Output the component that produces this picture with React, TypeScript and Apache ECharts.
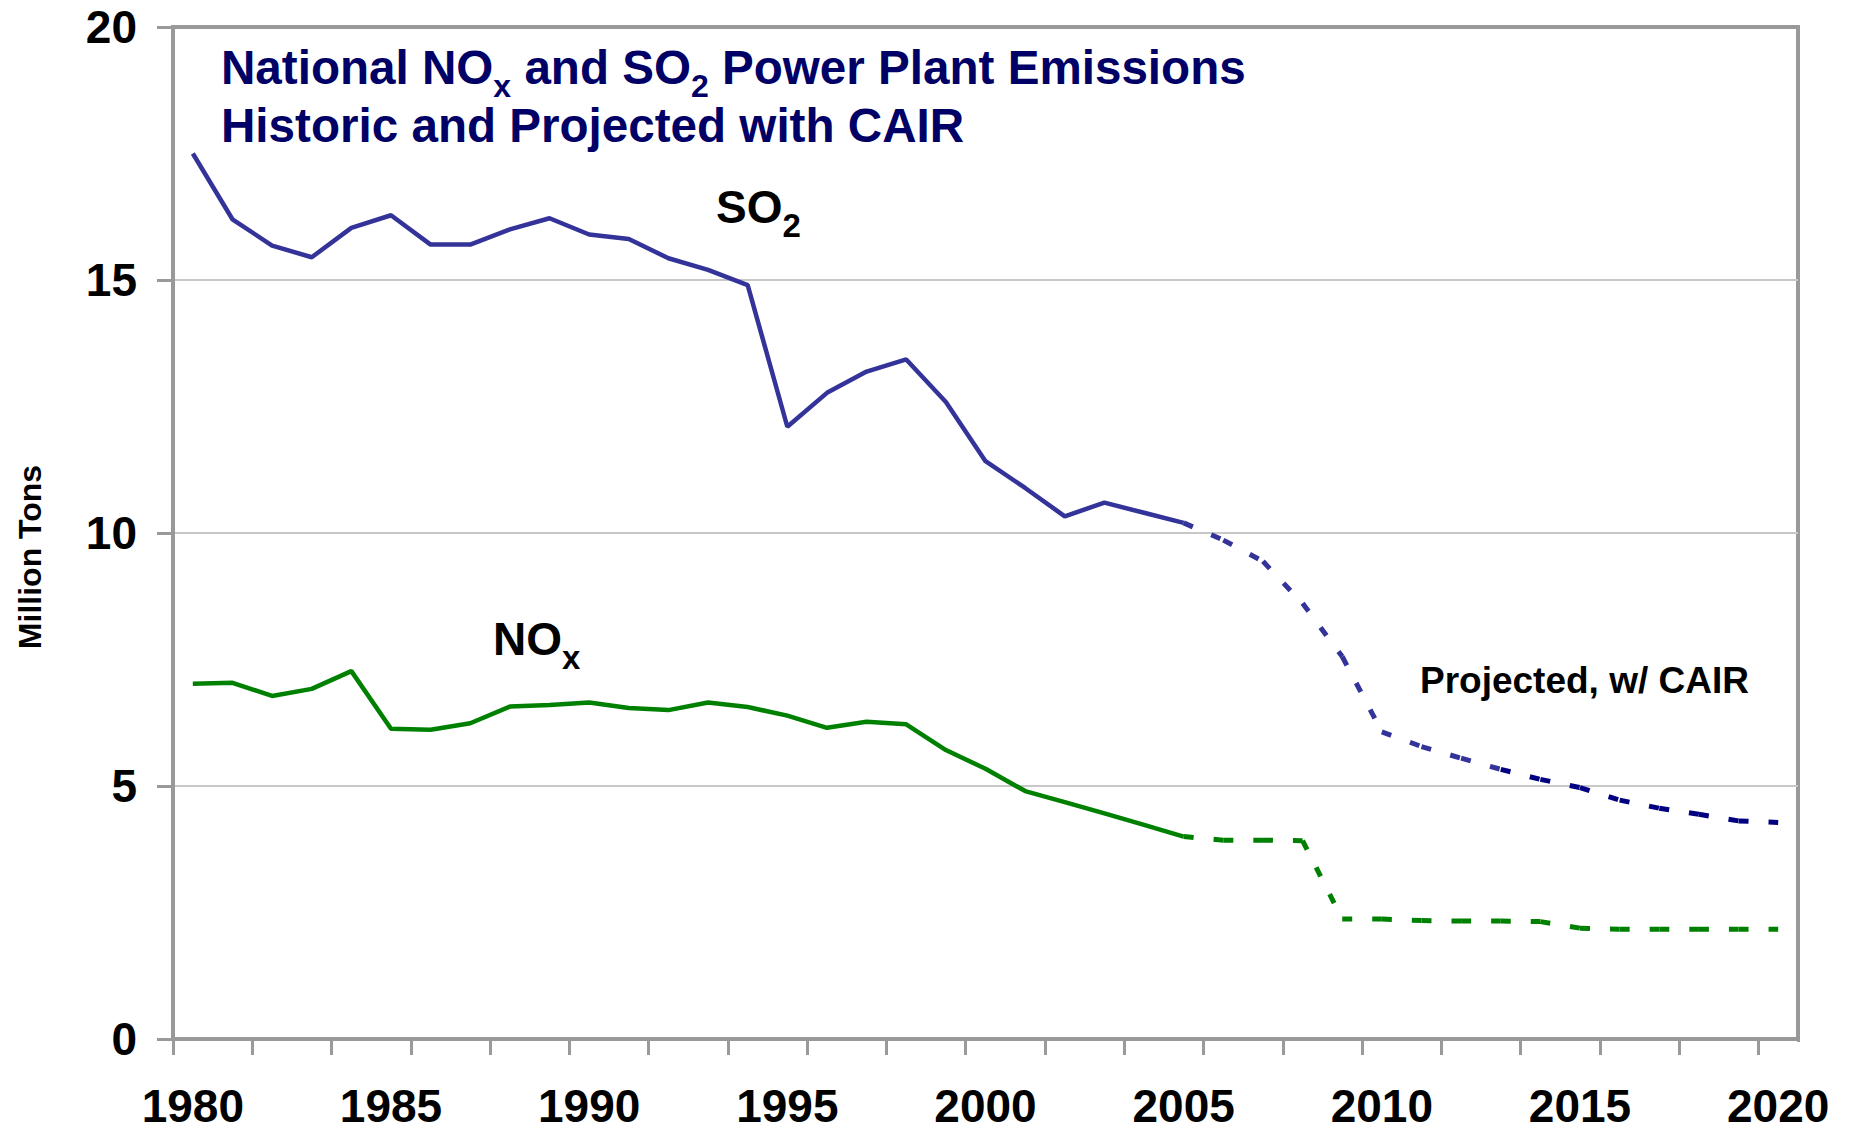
import React, { useEffect, useRef } from 'react';
import * as echarts from 'echarts';

// ---- data ----
const years = [
  '1980', '1981', '1982', '1983', '1984', '1985', '1986', '1987', '1988', '1989',
  '1990', '1991', '1992', '1993', '1994', '1995', '1996', '1997', '1998', '1999',
  '2000', '2001', '2002', '2003', '2004', '2005', '2006', '2007', '2008', '2009',
  '2010', '2011', '2012', '2013', '2014', '2015', '2016', '2017', '2018', '2019', '2020',
];

// historic 1980-2005
const so2Historic = [
  17.5, 16.2, 15.68, 15.45, 16.03, 16.28, 15.7, 15.7, 16.0, 16.22,
  15.9, 15.81, 15.43, 15.2, 14.9, 12.1, 12.77, 13.19, 13.43, 12.59,
  11.42, 10.89, 10.33, 10.6, 10.4, 10.2,
];
const noxHistoric = [
  7.02, 7.04, 6.78, 6.92, 7.27, 6.13, 6.11, 6.24, 6.57, 6.6,
  6.65, 6.54, 6.5, 6.65, 6.56, 6.39, 6.15, 6.27, 6.22, 5.71,
  5.34, 4.9, 4.68, 4.46, 4.23, 4.0,
];

// projected with CAIR, 2005-2020
const projectionStartYear = '2005';
const so2Projected = [
  10.2, 9.86, 9.44, 8.61, 7.56, 6.07, 5.78, 5.55, 5.33, 5.13,
  4.97, 4.72, 4.56, 4.44, 4.31, 4.28,
];
const noxProjected = [
  4.0, 3.93, 3.93, 3.92, 2.37, 2.37, 2.34, 2.33, 2.33, 2.32,
  2.19, 2.17, 2.17, 2.17, 2.17, 2.17,
];
const so2DarkFromYear = '2013';

const yTickValues = [0, 5, 10, 15, 20];

// ---- styling ----
const FONT = '"Liberation Sans", Arial, Helvetica, sans-serif';
const AXIS_GRAY = '#999999';
const GRID_GRAY = '#c8c8c8';
const SO2_COLOR = '#333399';
const SO2_DARK = '#000080';
const NOX_COLOR = '#008000';
const TITLE_COLOR = '#000066';

function measure(text: string, size: number): number {
  const ctx = document.createElement('canvas').getContext('2d');
  if (!ctx) return text.length * size * 0.55;
  ctx.font = `bold ${size}px ${FONT}`;
  return ctx.measureText(text).width;
}

// pieces: [text, isSubscript]
function subText(
  pieces: [string, boolean][],
  x0: number,
  baseline: number,
  size: number,
  subSize: number,
  subDrop: number,
  color: string,
) {
  const els: any[] = [];
  let x = x0;
  for (const [t, sub] of pieces) {
    const fs = sub ? subSize : size;
    const trimmed = t.trim();
    const lead = t.length - t.replace(/^\s+/, '').length;
    const trail = t.length - t.replace(/\s+$/, '').length;
    x += measure(' '.repeat(lead), fs);
    const bl = sub ? baseline + subDrop : baseline;
    els.push({
      type: 'text',
      z: 100,
      silent: true,
      style: {
        text: trimmed,
        x,
        y: bl - 0.3465 * fs,
        fill: color,
        font: `bold ${fs}px ${FONT}`,
        textAlign: 'left',
        textVerticalAlign: 'middle',
        align: 'left',
        verticalAlign: 'middle',
      },
    });
    x += measure(trimmed, fs) + measure(' '.repeat(trail), fs);
  }
  return els;
}

function segments(values: number[], startIdx: number): number[][] {
  const out: number[][] = [];
  for (let k = 0; k < values.length - 1; k++) {
    out.push([startIdx + k, values[k], values[k + 1]]);
  }
  return out;
}

function dashedSeries(data: number[][], color: string) {
  return {
    type: 'custom',
    coordinateSystem: 'cartesian2d',
    silent: true,
    z: 4,
    encode: { x: 0, y: [1, 2] },
    data,
    renderItem: (_params: any, api: any) => {
      const i = api.value(0);
      const p0 = api.coord([i, api.value(1)]);
      const p1 = api.coord([i + 1, api.value(2)]);
      return {
        type: 'line',
        shape: { x1: p0[0], y1: p0[1], x2: p1[0], y2: p1[1] },
        style: { stroke: color, lineWidth: 5, lineDash: [10, 20], lineCap: 'butt', fill: null },
      };
    },
  };
}

export default function App() {
  const ref = useRef<HTMLDivElement>(null);

  useEffect(() => {
    if (!ref.current) return;
    const chart = echarts.init(ref.current, undefined, { renderer: 'svg' });

    const startIdx = years.indexOf(projectionStartYear);
    const darkIdx = years.indexOf(so2DarkFromYear);
    const so2Segs = segments(so2Projected, startIdx);
    const so2Light = so2Segs.filter((s) => s[0] < darkIdx);
    const so2Dark = so2Segs.filter((s) => s[0] >= darkIdx);
    const noxSegs = segments(noxProjected, startIdx);

    const graphics: any[] = [
      ...subText(
        [['National NO', false], ['x', true], [' and SO', false], ['2', true], [' Power Plant Emissions', false]],
        221, 84, 47.6, 32, 13, TITLE_COLOR,
      ),
      ...subText([['Historic and Projected with CAIR', false]], 221, 142, 47.6, 32, 13, TITLE_COLOR),
      ...subText([['SO', false], ['2', true]], 716, 223, 46, 33, 14, '#000000'),
      ...subText([['NO', false], ['x', true]], 493, 655, 46, 33, 14, '#000000'),
      ...subText([['Projected, w/ CAIR', false]], 1420, 693, 37, 26, 10, '#000000'),
      {
        type: 'text',
        z: 100,
        silent: true,
        x: 30,
        y: 557,
        rotation: Math.PI / 2,
        style: {
          text: 'Million Tons',
          x: 0,
          y: 0,
          fill: '#000000',
          font: `bold 32px ${FONT}`,
          textAlign: 'center',
          textVerticalAlign: 'middle',
          align: 'center',
          verticalAlign: 'middle',
        },
      },
      // hide the closing band tick at the far right end of the category axis
      {
        type: 'rect',
        z: 100,
        silent: true,
        shape: { x: 1793, y: 1042, width: 12, height: 20 },
        style: { fill: '#ffffff' },
      },
    ];

    chart.setOption({
      animation: false,
      backgroundColor: '#ffffff',
      grid: {
        left: 173,
        right: 51,
        top: 27,
        bottom: 92,
        show: true,
        borderColor: AXIS_GRAY,
        borderWidth: 4,
        backgroundColor: 'transparent',
      },
      xAxis: {
        type: 'category',
        data: years,
        boundaryGap: true,
        axisLine: { show: true, lineStyle: { color: AXIS_GRAY, width: 4 } },
        axisTick: { show: true, interval: 1, length: 16, alignWithLabel: false, lineStyle: { color: AXIS_GRAY, width: 3 } },
        axisLabel: {
          interval: 4,
          margin: 44,
          fontSize: 46,
          fontWeight: 'bold',
          fontFamily: FONT,
          color: '#000000',
        },
        splitLine: { show: false },
      },
      yAxis: {
        type: 'value',
        min: yTickValues[0],
        max: yTickValues[yTickValues.length - 1],
        interval: yTickValues[1] - yTickValues[0],
        axisLine: { show: true, lineStyle: { color: AXIS_GRAY, width: 4 } },
        axisTick: { show: true, length: 16, lineStyle: { color: AXIS_GRAY, width: 3 } },
        axisLabel: {
          margin: 36,
          fontSize: 46,
          fontWeight: 'bold',
          fontFamily: FONT,
          color: '#000000',
        },
        splitLine: {
          show: true,
          lineStyle: {
            color: ['rgba(0,0,0,0)', GRID_GRAY, GRID_GRAY, GRID_GRAY, 'rgba(0,0,0,0)'],
            width: 2,
          },
        },
      },
      series: [
        {
          type: 'line',
          name: 'SO2',
          data: so2Historic,
          symbol: 'none',
          z: 5,
          lineStyle: { color: SO2_COLOR, width: 4.5 },
          itemStyle: { color: SO2_COLOR },
        },
        {
          type: 'line',
          name: 'NOx',
          data: noxHistoric,
          symbol: 'none',
          z: 5,
          lineStyle: { color: NOX_COLOR, width: 4.5 },
          itemStyle: { color: NOX_COLOR },
        },
        dashedSeries(so2Light, SO2_COLOR),
        dashedSeries(so2Dark, SO2_DARK),
        dashedSeries(noxSegs, NOX_COLOR),
      ],
      graphic: graphics,
    });

    return () => chart.dispose();
  }, []);

  return (
    <div
      ref={ref}
      style={{ position: 'fixed', left: 0, top: 0, width: 1849, height: 1131, background: '#ffffff' }}
    />
  );
}
